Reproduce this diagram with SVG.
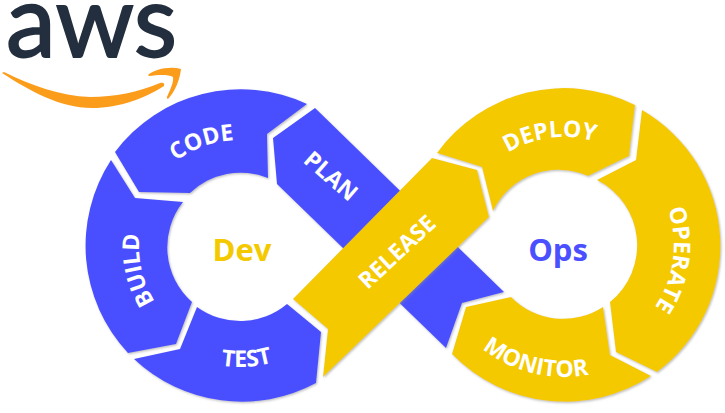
<svg xmlns="http://www.w3.org/2000/svg" width="725" height="413" viewBox="0 0 725 413">
<style>
.b{fill:#4a50ff}
.y{fill:#f4c900}
.s{filter:url(#sh)}
text{font-family:"Open Sans","Liberation Sans",sans-serif}
.l{fill:#fff;font-size:23px;font-weight:700;text-anchor:middle}
.h{font-size:31px;font-weight:700;text-anchor:middle}
</style>
<defs>
<filter id="sh" x="-15%" y="-15%" width="130%" height="130%"><feDropShadow dx="1" dy="1.2" stdDeviation="1.3" flood-color="#888" flood-opacity=".55"/></filter>
<path id="pCode" d="M134.6 228.4A107 107 0 0 1 308.8 165"/>
<path id="pBuild" d="M209.8 343.4A101 101 0 0 1 171.6 172.7"/>
<path id="pTest" d="M139.7 312.9A120 120 0 0 0 347.2 300.9"/>
<path id="pDeploy" d="M464.3 203.5A108 108 0 0 1 649.8 179.4"/>
<path id="pOperate" d="M631.1 157.9A110 110 0 0 1 605.9 346.7"/>
<path id="pMonitor" d="M437.3 282.1A132 132 0 0 0 659.4 336.2"/>
</defs>
<g id="aws-logo">
<text x="91.500" y="56.500" font-size="101" style="font-family:Lato,'Open Sans',sans-serif;text-anchor:middle" fill="#232f3e" stroke="#232f3e" stroke-width="1.8" textLength="171" lengthAdjust="spacingAndGlyphs">aws</text>
<path fill="#fb9c1b" d="M2 73C30 91 60 108 92 108C120 108 145 98 164 86C165 83 163 82 160 83C138 92 115 97 90 97C60 96 30 85 4 72Z"/>
<path fill="#fb9c1b" d="M148 75C155 69 170 66 181 69C180 79 175 92 168 99C167 99 167 98 167 97C170 90 174 82 173 77C168 74 157 75 149 76Z"/>
</g>
<g id="plan"><path class="b s" d="M315 108L504 292L462 303L446 348L277 184L273 138Z"/><text class="l" transform="translate(331 176) rotate(41)" y="8">PLAN</text></g>
<g id="code"><path class="b s" d="M115 152A157 157 0 0 1 307 104L267 134L268 178A73 73 0 0 0 190 193L139 192Z"/><text class="l"><textPath href="#pCode" startOffset="50%">CODE</textPath></text></g>
<g id="build"><path class="b s" d="M111 160L135 198L183 202A73 73 0 0 0 192 302L176 344L128 353A157 157 0 0 1 111 160Z"/><text class="l"><textPath href="#pBuild" startOffset="50%">BUILD</textPath></text></g>
<g id="test"><path class="b s" d="M197 307A73 73 0 0 0 287 304L321 332L316 383A157 157 0 0 1 134 359L180 349Z"/><text class="l"><textPath href="#pTest" startOffset="50%">TEST</textPath></text></g>
<g id="deploy"><path class="y s" d="M437 153A157 157 0 0 1 635 105L629 156L588 176A73 73 0 0 0 493 211L482 167Z"/><text class="l"><textPath href="#pDeploy" startOffset="50%">DEPLOY</textPath></text></g>
<g id="operate"><path class="y s" d="M642 110A157 157 0 0 1 657 372L616 352L610 302A73 73 0 0 0 597 180L636 160Z"/><text class="l"><textPath href="#pOperate" startOffset="50%">OPERATE</textPath></text></g>
<g id="monitor"><path class="y s" d="M603 307L610 355L651 376A157 157 0 0 1 452 354L466 307L511 297A73 73 0 0 0 603 307Z"/><text class="l"><textPath href="#pMonitor" startOffset="50%">MONITOR</textPath></text></g>
<g id="release"><path class="y s" d="M432 158L477 170L489 217L323 377L328 329L293 299Z"/><text class="l" transform="translate(397 252) rotate(-43)" y="8">RELEASE</text></g>
<g id="dev"><text class="h" x="242" y="261" fill="#f4c900">Dev</text></g>
<g id="ops"><text class="h" x="558" y="261" fill="#4a50ff">Ops</text></g>
</svg>
